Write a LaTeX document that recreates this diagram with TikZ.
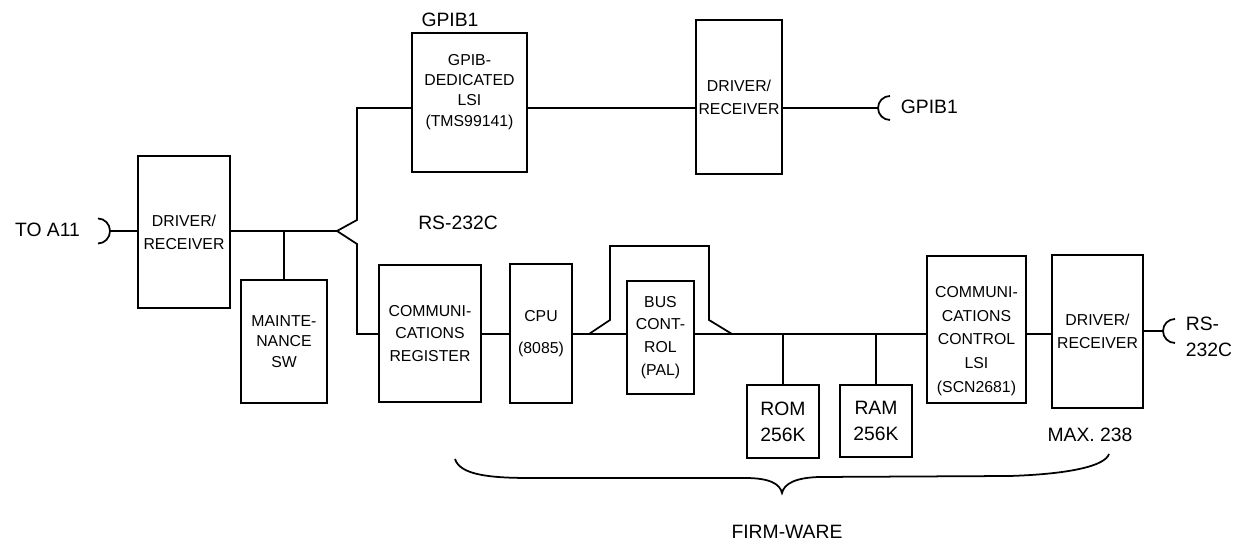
\documentclass[tikz,border=0pt]{standalone}
\usepackage{fontspec}
\setmainfont{Liberation Sans}
\usetikzlibrary{calc}

\begin{document}
\begin{tikzpicture}[x=1cm,y=1cm,line width=1pt,
  blk/.style={draw,inner sep=0pt,align=center,font=\fontsize{9}{13}\selectfont},
  tight/.style={font=\fontsize{9}{11.5}\selectfont},
  txt/.style={inner sep=0pt,align=center,font=\fontsize{9}{13.5}\selectfont},
  lbl/.style={inner sep=0pt,font=\fontsize{11}{14.5}\selectfont}]
\useasboundingbox (0,0) rectangle (25.02,10.92);
% rows of the two buses
\coordinate (hi) at (0,8.76);
\coordinate (lo) at (0,4.24);
% boxes
\node[blk,minimum width=1.84cm,minimum height=3.04cm] (drvA) at (3.68,6.28) {DRIVER/\\RECEIVER};
\node[blk,tight,minimum width=1.72cm,minimum height=2.46cm] (maint) at (5.68,4.09) {MAINTE-\\NANCE\\SW};
\node[blk,minimum width=2.30cm,minimum height=2.78cm] (gpib) at (9.39,8.87) {};
\node[txt,tight] (gpibtxt) at (9.39,9.08) {GPIB-\\DEDICATED\\LSI\\(TMS99141)};
\node[blk,minimum width=1.72cm,minimum height=3.08cm] (drvB) at (14.78,8.98) {DRIVER/\\RECEIVER};
\node[blk,minimum width=2.04cm,minimum height=2.74cm] (commreg) at (8.60,4.25) {COMMUNI-\\CATIONS\\REGISTER};
\node[blk,minimum width=1.24cm,minimum height=2.78cm] (cpu) at (10.82,4.25) {CPU\\[5.5pt](8085)};
\node[blk,minimum width=1.34cm,minimum height=2.26cm] (bus) at (13.21,4.17) {BUS\\CONT-\\ROL\\(PAL)};
\node[blk,font=\fontsize{11}{14.8}\selectfont,minimum width=1.44cm,minimum height=1.46cm] (rom) at (15.66,2.49) {ROM\\256K};
\node[blk,font=\fontsize{11}{14.8}\selectfont,minimum width=1.44cm,minimum height=1.44cm] (ram) at (17.52,2.50) {RAM\\256K};
\node[blk,minimum width=1.98cm,minimum height=2.94cm] (commctl) at (19.53,4.33) {};
\node[txt] (commctltxt) at (19.53,4.10) {COMMUNI-\\CATIONS\\CONTROL\\LSI\\(SCN2681)};
\node[blk,minimum width=1.82cm,minimum height=3.06cm] (drvC) at (21.95,4.29) {DRIVER/\\RECEIVER};
% labels
\node[lbl] (toa) at (0.95,6.32) {TO A11};
\node[lbl] (gpibtop) at (9.00,10.52) {GPIB1};
\node[lbl,anchor=west] (gpibout) at (18.00,8.78) {GPIB1};
\node[lbl] (rsmid) at (9.16,6.46) {RS-232C};
\node[lbl,anchor=west,align=left] (rsout) at (23.70,4.18) {RS-\\232C};
\node[lbl] (max) at (21.80,2.22) {MAX. 238};
\node[lbl] (firm) at (15.74,0.28) {FIRM-WARE};
% plugs
\coordinate (jA) at (2.20,6.30);
\coordinate (jB) at (17.56,8.76);
\coordinate (jC) at (23.26,4.30);
\draw ([shift={(-.24,.25)}]jA) arc[start angle=90,end angle=-90,x radius=.24,y radius=.25];
\draw ([shift={(.24,.24)}]jB) arc[start angle=90,end angle=270,x radius=.24,y radius=.24];
\draw ([shift={(.24,.24)}]jC) arc[start angle=90,end angle=270,x radius=.24,y radius=.24];
% left side and fork
\coordinate (fork) at (6.74,6.30);
\coordinate (tU) at (7.14,8.76);
\draw (jA) -- (jA -| drvA.west);
\draw (drvA.east |- fork) -- (fork);
\draw (maint) -- (maint |- fork);
\draw (fork) -- ++(.4,.22) -- (tU) -- (tU -| gpib.west);
\draw (fork) -- ++(.4,-.26) |- (commreg.west |- lo);
% upper bus
\draw (gpib.east |- hi) -- (drvB.west |- hi);
\draw (drvB.east |- hi) -- (jB);
% lower bus
\coordinate (bpL) at (11.78,4.24);
\coordinate (bpR) at (14.64,4.24);
\draw (commreg.east |- lo) -- (cpu.west |- lo);
\draw (cpu.east |- lo) -- (bus.west |- lo);
\draw (bus.east |- lo) -- (commctl.west |- lo);
\draw (bpL) -- ++(.42,.28) |- ++(1.98,1.48) -- ++(0,-1.48) -- (bpR);
\draw (rom) -- (rom |- lo);
\draw (ram) -- (ram |- lo);
\draw (commctl.east |- lo) -- (drvC.west |- lo);
\draw (drvC.east |- jC) -- (jC);
% brace over the firmware part
\draw (9.10,1.74) .. controls (9.2,1.42) and (9.8,1.36) .. (10.6,1.36) -- (14.9,1.36)
  .. controls (15.4,1.36) and (15.6,1.24) .. (15.64,1.06)
  .. controls (15.68,1.24) and (15.9,1.37) .. (16.4,1.38) -- (20.2,1.40)
  .. controls (21.4,1.44) and (22.1,1.6) .. (22.18,1.84);
\end{tikzpicture}
\end{document}
